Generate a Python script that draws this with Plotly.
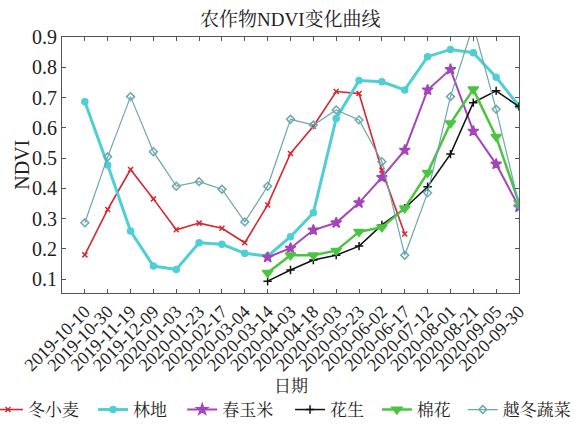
import plotly.graph_objects as go

dates = ["2019-10-10", "2019-10-30", "2019-11-19", "2019-12-09", "2020-01-03",
         "2020-01-23", "2020-02-17", "2020-03-04", "2020-03-14", "2020-04-03",
         "2020-04-18", "2020-05-03", "2020-05-23", "2020-06-02", "2020-06-17",
         "2020-07-12", "2020-08-01", "2020-08-21", "2020-09-05", "2020-09-30"]

winter_wheat = [0.18, 0.33, 0.462, 0.365, 0.263, 0.285, 0.268, 0.22, 0.345, 0.515,
                0.605, 0.72, 0.713, 0.46, 0.249, None, None, None, None, None]
forest = [0.686, 0.477, 0.259, 0.143, 0.132, 0.22, 0.215, 0.185, 0.176, 0.24,
          0.319, 0.631, 0.756, 0.752, 0.725, 0.835, 0.859, 0.848, 0.767, 0.672]
spring_maize = [None, None, None, None, None, None, None, None, 0.172, 0.202,
                0.262, 0.286, 0.352, 0.436, 0.526, 0.725, 0.793, 0.589, 0.48, 0.338]
peanut = [None, None, None, None, None, None, None, None, 0.093, 0.13,
          0.163, 0.179, 0.209, 0.279, 0.334, 0.405, 0.513, 0.683, 0.722, 0.67]
cotton = [None, None, None, None, None, None, None, None, 0.121, 0.179,
          0.179, 0.194, 0.256, 0.271, 0.334, 0.451, 0.615, 0.727, 0.57, 0.352]
winter_veg = [0.286, 0.504, 0.703, 0.521, 0.407, 0.422, 0.397, 0.289, 0.407, 0.628,
              0.609, 0.659, 0.626, 0.488, 0.179, 0.385, 0.703, 0.94, 0.661, 0.345]

names = ["冬小麦", "林地", "春玉米", "花生", "棉花", "越冬蔬菜"]
series = [winter_wheat, forest, spring_maize, peanut, cotton, winter_veg]
colors = ["#d8262f", "#4fcfd5", "#a444bd", "#111111", "#4cc443", "#6aa8ad"]
widths = [1.6, 3.0, 2.0, 1.5, 2.5, 1.2]
symbols = ["x-thin-open", "circle", "star", "cross-thin-open", "triangle-down", "diamond-open"]
msizes = [5, 6, 8, 6, 9, 6]
legend_x = [-0.162, 0.068, 0.263, 0.499, 0.689, 0.877]

serif = "Liberation Serif, Noto Serif CJK SC, Noto Sans CJK SC, serif"
text_color = "#222222"

fig = go.Figure()
legend_layout = {}
for i, (n, s, c, w, sym, ms, lx) in enumerate(zip(names, series, colors, widths,
                                                   symbols, msizes, legend_x)):
    key = "legend" if i == 0 else f"legend{i + 1}"
    fig.add_trace(go.Scatter(
        x=list(range(len(dates))), y=s, name=n, mode="lines+markers",
        line=dict(color=c, width=w),
        marker=dict(symbol=sym, size=ms, color=c, line=dict(color=c, width=1.5)),
        connectgaps=False, legend=key,
    ))
    legend_layout[key] = dict(orientation="h", x=lx, xanchor="left", y=-0.457,
                              yanchor="middle",
                              font=dict(size=17, family=serif, color=text_color),
                              itemwidth=30, bgcolor="rgba(0,0,0,0)")

axis_common = dict(showline=True, linecolor="#555555", linewidth=1, mirror="ticks",
                   ticks="inside", ticklen=4, tickcolor="#555555", showgrid=False,
                   zeroline=False)

fig.update_layout(
    width=587, height=425,
    margin=dict(l=62, r=68, t=37, b=132, autoexpand=False),
    paper_bgcolor="white", plot_bgcolor="white",
    font=dict(family=serif, color=text_color),
    showlegend=True,
    xaxis=dict(range=[-1, 19], tickmode="array", tickvals=list(range(len(dates))),
               ticktext=dates, tickangle=-45,
               tickfont=dict(size=18, family=serif, color=text_color),
               automargin=False, **axis_common),
    yaxis=dict(range=[0.054, 0.9], tickvals=[0.1, 0.2, 0.3, 0.4, 0.5, 0.6, 0.7, 0.8, 0.9],
               ticktext=["0.1", "0.2", "0.3", "0.4", "0.5", "0.6", "0.7", "0.8", "0.9"],
               tickfont=dict(size=20, family=serif, color=text_color),
               automargin=False, **axis_common),
    annotations=[
        dict(text="农作物NDVI变化曲线", x=0.5, y=1.0, xref="paper", yref="paper",
             xanchor="center", yanchor="bottom", yshift=5, showarrow=False,
             font=dict(size=19, family=serif, color=text_color)),
        dict(text="日期", x=0.5, y=-0.365, xref="paper", yref="paper",
             xanchor="center", yanchor="middle", showarrow=False,
             font=dict(size=17, family=serif, color=text_color)),
        dict(text="NDVI", x=-0.088, y=0.5, xref="paper", yref="paper",
             xanchor="center", yanchor="middle", textangle=-90, showarrow=False,
             font=dict(size=20, family=serif, color=text_color)),
    ],
    **legend_layout,
)

fig.write_html("out.html", config={"displayModeBar": False},
               post_script="document.body.style.margin='0';document.body.style.overflow='hidden';")
